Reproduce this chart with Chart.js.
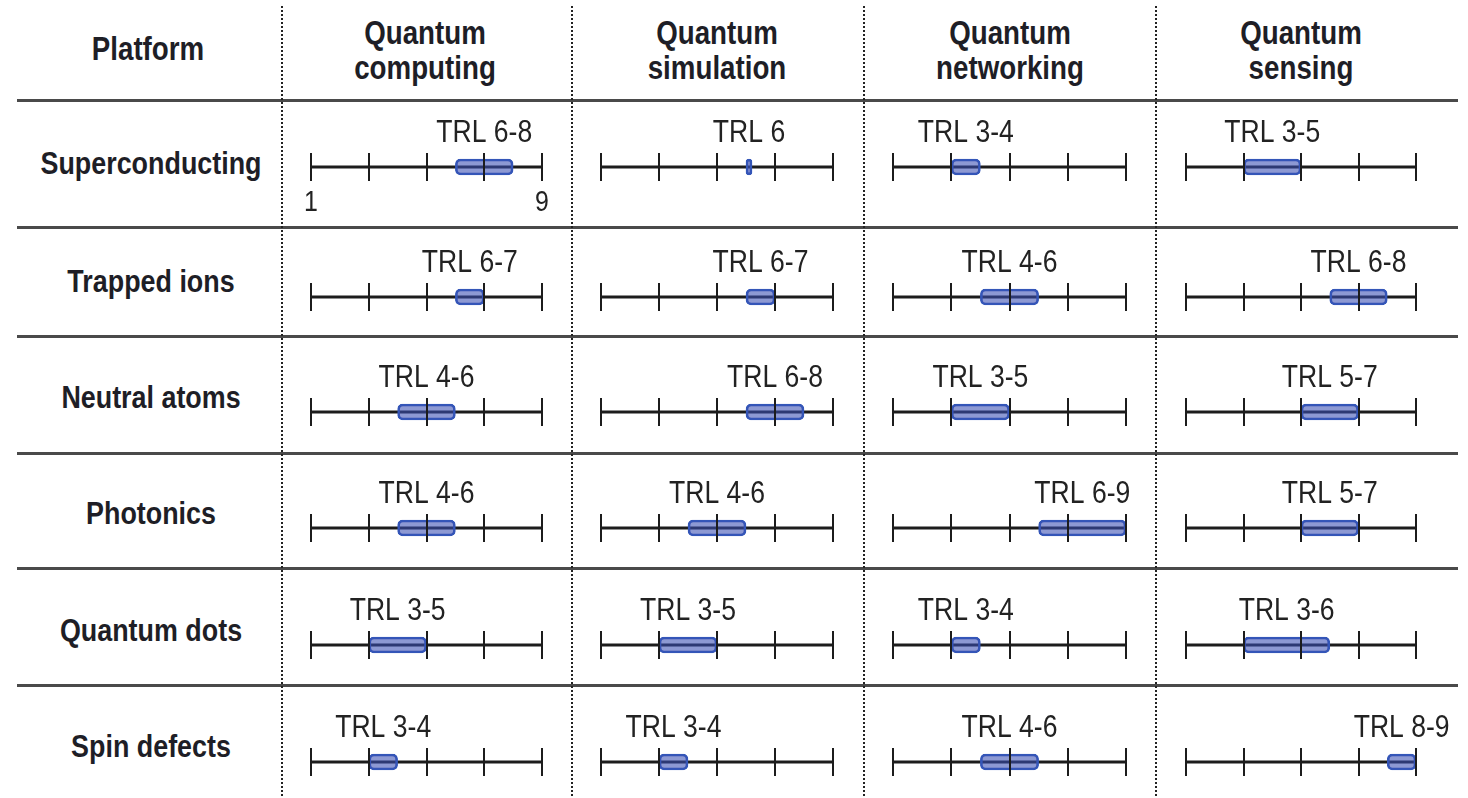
<!DOCTYPE html>
<html><head><meta charset="utf-8">
<script src="https://cdn.jsdelivr.net/npm/chart.js@4.4.1/dist/chart.umd.min.js"></script>
<style>
html,body{margin:0;padding:0;background:#fff;}
#page{position:relative;width:1468px;height:798px;overflow:hidden;font-family:"Liberation Sans",Arial,sans-serif;color:#1e1e26;}
.t{position:absolute;transform:translate(-50%,-50%) scaleX(0.84);white-space:nowrap;line-height:1;}
.b{font-weight:bold;}
.hl{position:absolute;left:17px;width:1441px;height:3px;background:#4a4a4a;}
.vl{position:absolute;top:6px;bottom:0;width:2px;background:repeating-linear-gradient(to bottom,#222 0 2px,transparent 2px 4px);}
canvas{position:absolute;}
</style></head><body><div id="page"></div>
<script>
// ---- data ----
const platforms = ["Superconducting","Trapped ions","Neutral atoms","Photonics","Quantum dots","Spin defects"];
const applications = [["Quantum","computing"],["Quantum","simulation"],["Quantum","networking"],["Quantum","sensing"]];
const trlComputing  = [[6,8],[6,7],[4,6],[4,6],[3,5],[3,4]];
const trlSimulation = [[6,6],[6,7],[6,8],[4,6],[3,5],[3,4]];
const trlNetworking = [[3,4],[4,6],[3,5],[6,9],[3,4],[4,6]];
const trlSensing    = [[3,5],[6,8],[5,7],[5,7],[3,6],[8,9]];
const trlTicks = [1,3,5,7,9];
const scaleEndLabels = ["1","9"];
const headerTitle = "Platform";

// ---- layout ----
const columnData = [trlComputing, trlSimulation, trlNetworking, trlSensing];
const colLines = [282,572,864,1156];
const colCenters = [425,717,1010,1301];
const axisStart = [311,601,893,1186];
const axisEnd = [542,833,1126,1416];
const rowLines = [100,227,336,453,568,685];
const rowLabelY = [163,281,397,513,630,746];
const axisY = [167,297,412,528,645,762];
const PADX = 70, CTOP = 60, CH = 130, SX = 0.83;
const FONT = '"Liberation Sans",Arial,sans-serif';

const page = document.getElementById('page');
function addText(txt, x, y, size, bold){
  const d = document.createElement('div');
  d.className = 't' + (bold ? ' b' : '');
  d.style.left = x + 'px'; d.style.top = y + 'px'; d.style.fontSize = size + 'px';
  d.textContent = txt; page.appendChild(d);
}
addText(headerTitle, 148, 48, 33, true);
applications.forEach((a, i) => { addText(a[0], colCenters[i], 32, 33, true); addText(a[1], colCenters[i], 67, 33, true); });
platforms.forEach((p, i) => addText(p, 151, rowLabelY[i], 32, true));
rowLines.forEach(y => { const d = document.createElement('div'); d.className = 'hl'; d.style.top = (y - 1.5) + 'px'; page.appendChild(d); });
colLines.forEach(x => { const d = document.createElement('div'); d.className = 'vl'; d.style.left = (x - 1) + 'px'; page.appendChild(d); });

function narrowText(ctx, txt, x, y){
  ctx.save(); ctx.translate(x, y); ctx.scale(SX, 1); ctx.fillText(txt, 0, 0); ctx.restore();
}

const trlPlugin = {
  id: 'trl',
  beforeDatasetsDraw(chart){
    const x = chart.scales.x, ctx = chart.ctx, ca = chart.chartArea, cy = (ca.top + ca.bottom) / 2;
    ctx.save(); ctx.strokeStyle = '#1c1c1c'; ctx.lineWidth = 3;
    ctx.beginPath(); ctx.moveTo(x.getPixelForValue(x.min), cy); ctx.lineTo(x.getPixelForValue(x.max), cy); ctx.stroke();
    ctx.restore();
  },
  afterDatasetsDraw(chart, args, opts){
    const x = chart.scales.x, ctx = chart.ctx, ca = chart.chartArea, cy = (ca.top + ca.bottom) / 2;
    ctx.save(); ctx.strokeStyle = '#1c1c1c'; ctx.lineWidth = 2;
    opts.ticks.forEach(v => { const px = Math.round(x.getPixelForValue(v)); ctx.beginPath(); ctx.moveTo(px, cy - 14); ctx.lineTo(px, cy + 14); ctx.stroke(); });
    const [lo, hi] = chart.data.datasets[0].data[0];
    const el = chart.getDatasetMeta(0).data[0];
    const xm = (el.x + el.base) / 2;
    ctx.fillStyle = '#222'; ctx.textAlign = 'center'; ctx.textBaseline = 'alphabetic';
    ctx.font = '32px ' + FONT;
    narrowText(ctx, 'TRL ' + lo + (hi !== lo ? '-' + hi : ''), xm, cy - 25);
    if (opts.endLabels) {
      ctx.font = '30px ' + FONT;
      narrowText(ctx, opts.endLabels[0], x.getPixelForValue(x.min), cy + 44);
      narrowText(ctx, opts.endLabels[1], x.getPixelForValue(x.max), cy + 44);
    }
    ctx.restore();
  }
};

columnData.forEach((col, c) => {
  col.forEach((range, r) => {
    const cv = document.createElement('canvas');
    const w = axisEnd[c] - axisStart[c] + 2 * PADX;
    cv.width = w; cv.height = CH;
    cv.style.left = (axisStart[c] - PADX) + 'px'; cv.style.top = (axisY[r] - CTOP) + 'px';
    cv.style.width = w + 'px'; cv.style.height = CH + 'px';
    page.appendChild(cv);
    new Chart(cv, {
      type: 'bar',
      data: { labels: [platforms[r]], datasets: [{
        data: [range],
        backgroundColor: 'rgba(58,80,180,0.58)', borderColor: '#3456b8', borderWidth: 2,
        borderRadius: 5, borderSkipped: false, barThickness: 16, minBarLength: 6 }] },
      options: {
        indexAxis: 'y', responsive: false, animation: false, devicePixelRatio: 1,
        layout: { padding: { left: PADX, right: PADX, top: 40, bottom: CH - 80 } },
        scales: { x: { min: 1, max: 9, display: false }, y: { display: false } },
        plugins: { legend: { display: false }, tooltip: { enabled: false },
          trl: { ticks: trlTicks, endLabels: (r === 0 && c === 0) ? scaleEndLabels : null } }
      },
      plugins: [trlPlugin]
    });
  });
});
</script></body></html>
